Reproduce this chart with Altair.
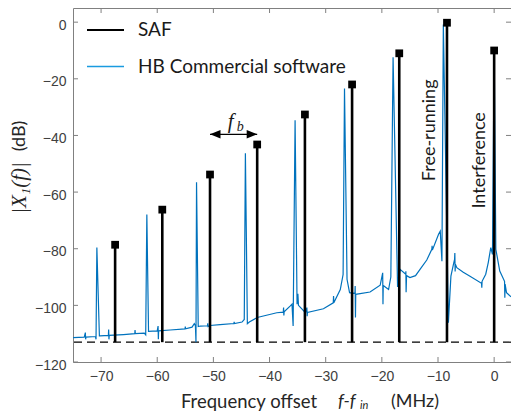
import altair as alt
import pandas as pd

# ---------------- data ----------------
saf_freq = [-67.5, -59.1, -50.6, -42.2, -33.7, -25.3, -16.9, -8.4, 0.0]
saf_level = [-78.6, -66.2, -53.8, -43.2, -32.6, -22.0, -11.0, -0.2, -10.0]
floor_level = -113.0

hb_freq = [
    -75.0, -73.0, -72.8, -72.75, -72.7, -71.0, -70.9, -70.75, -70.3, -70.2,
    -68.7, -68.65, -68.6, -68.55, -66.0, -64.0, -63.95, -63.9, -62.3, -62.05,
    -61.85, -61.55, -60.0, -59.85, -59.8, -59.75, -57.7, -55.05, -55.0, -54.95,
    -53.8, -53.4, -53.2, -53.1, -53.0, -52.7, -52.3, -51.05, -51.0, -50.95,
    -50.6, -48.8, -46.35, -46.3, -46.25, -44.9, -44.5, -44.3, -43.95, -43.6,
    -42.2, -38.7, -37.55, -37.5, -37.45, -37.4, -36.3, -36.0, -35.8, -35.45,
    -35.1, -34.95, -34.85, -33.6, -33.35, -33.3, -33.25, -30.4, -28.65, -28.6,
    -28.55, -27.4, -26.9, -26.65, -26.2, -25.75, -24.8, -24.75, -24.7, -24.65,
    -22.1, -20.3, -19.85, -19.8, -19.75, -18.8, -18.4, -18.0, -17.2, -16.75,
    -15.75, -15.72, -15.68, -15.6, -15.0, -14.0, -13.2, -12.0, -11.1, -11.05,
    -11.0, -9.9, -9.6, -9.3, -9.05, -8.15, -7.7, -7.3, -7.05, -7.0,
    -6.95, -6.9, -6.65, -5.5, -4.3, -2.25, -2.2, -2.15, -1.5, -1.05,
    -0.6, -0.3, 0.0, 0.3, 1.0, 1.85, 1.9, 1.95, 2.2, 3.0,
]
hb_level = [
    -111.4, -111.2, -109.6, -112.0, -111.2, -111.0, -112.0, -79.6, -110.8, -110.8,
    -110.6, -108.5, -112.0, -110.6, -110.3, -110.0, -108.7, -110.0, -109.8, -110.4,
    -67.9, -109.2, -109.0, -107.3, -112.0, -109.0, -108.7, -108.3, -107.5, -108.3,
    -107.7, -106.5, -107.2, -113.0, -56.5, -107.5, -107.3, -107.2, -106.3, -107.5,
    -107.1, -106.8, -106.4, -105.8, -106.4, -105.9, -105.0, -46.3, -106.5, -105.9,
    -104.3, -102.6, -102.4, -100.8, -103.6, -102.3, -100.2, -99.6, -107.3, -34.6,
    -99.6, -95.9, -100.0, -102.6, -100.8, -103.8, -102.5, -101.2, -99.1, -96.7,
    -99.1, -94.4, -89.1, -23.4, -90.8, -95.5, -95.8, -93.2, -104.3, -96.1,
    -95.3, -92.9, -88.5, -99.6, -93.0, -94.4, -90.0, -12.4, -93.5, -87.3,
    -89.0, -88.0, -95.4, -89.5, -90.2, -89.5, -87.3, -84.0, -80.2, -79.0,
    -80.5, -74.9, -73.8, -84.4, -0.8, -106.1, -89.7, -86.0, -83.8, -81.5,
    -88.0, -85.5, -86.7, -88.3, -89.7, -92.2, -93.8, -91.5, -89.0, -84.9,
    -79.6, -82.0, -10.0, -80.2, -87.9, -91.5, -97.3, -92.5, -95.5, -97.0,
]

x_ticks = [-70, -60, -50, -40, -30, -20, -10, 0]
y_ticks = [-120, -100, -80, -60, -40, -20, 0]
x_domain = [-75, 3.0]
y_domain = [-120, 5]

legend_labels = ["SAF", "HB Commercial software"]
fb_span = [-50.6, -42.2]
fb_level = -39.6

# ---------------- layout / style ----------------
W, H = 438, 354
BLUE = "#0072BD"
LEG_BLUE = "#1a9be0"
FRAME = "#808080"
SANS = "Lato"

xs = alt.Scale(domain=x_domain, nice=False, zero=False)
ys = alt.Scale(domain=y_domain, nice=False, zero=False)

x_axis = alt.Axis(values=x_ticks, ticks=False, domain=False, grid=False, title=None,
                  labelFont="Liberation Sans", labelFontSize=14, labelColor="#404040",
                  labelPadding=7)
y_axis = alt.Axis(values=y_ticks, ticks=False, domain=False, grid=False, title=None,
                  labelFont="Liberation Sans", labelFontSize=14, labelColor="#404040",
                  labelPadding=7, labelOffset=3)

hb_df = pd.DataFrame({"f": hb_freq, "v": hb_level, "i": range(len(hb_freq))})
saf_df = pd.DataFrame({"f": saf_freq, "v": saf_level, "b": [floor_level] * len(saf_freq)})

floor_line = alt.Chart(pd.DataFrame({"v": [floor_level]})).mark_rule(
    color="black", strokeWidth=1.2, strokeDash=[8, 5]
).encode(y=alt.Y("v:Q", scale=ys, axis=y_axis))

hb_line = alt.Chart(hb_df).mark_line(color=BLUE, strokeWidth=1.2, clip=True).encode(
    x=alt.X("f:Q", scale=xs, axis=x_axis),
    y=alt.Y("v:Q", scale=ys, axis=y_axis),
    order="i:Q",
)

stems = alt.Chart(saf_df).mark_rule(color="black", strokeWidth=2.6).encode(
    x=alt.X("f:Q", scale=xs), y=alt.Y("v:Q", scale=ys), y2="b:Q"
)
heads = alt.Chart(saf_df).mark_square(color="black", opacity=1, size=60).encode(
    x=alt.X("f:Q", scale=xs), y=alt.Y("v:Q", scale=ys)
)

# inward ticks on all four sides
xt_df = pd.DataFrame({"t": x_ticks})
yt_df = pd.DataFrame({"t": y_ticks})
tick_bottom = alt.Chart(xt_df).mark_rule(color=FRAME, strokeWidth=1).encode(
    x=alt.X("t:Q", scale=xs), y=alt.value(H), y2=alt.value(H - 5))
tick_top = alt.Chart(xt_df).mark_rule(color=FRAME, strokeWidth=1).encode(
    x=alt.X("t:Q", scale=xs), y=alt.value(0), y2=alt.value(5))
tick_left = alt.Chart(yt_df).mark_rule(color=FRAME, strokeWidth=1).encode(
    y=alt.Y("t:Q", scale=ys), x=alt.value(0), x2=alt.value(5))
tick_right = alt.Chart(yt_df).mark_rule(color=FRAME, strokeWidth=1).encode(
    y=alt.Y("t:Q", scale=ys), x=alt.value(W), x2=alt.value(W - 5))

# legend (manual)
one = pd.DataFrame({"a": [0]})
leg_saf_line = alt.Chart(one).mark_rule(color="black", strokeWidth=2).encode(
    x=alt.value(14), x2=alt.value(51), y=alt.value(22))
leg_hb_line = alt.Chart(one).mark_rule(color=LEG_BLUE, strokeWidth=1.5).encode(
    x=alt.value(14), x2=alt.value(51), y=alt.value(58.5))
leg_df = pd.DataFrame({"t": legend_labels, "yy": [22, 58.5]})
leg_text = alt.Chart(leg_df).mark_text(
    align="left", baseline="middle", font=SANS, fontSize=19, color="#1a1a1a"
).encode(text="t:N", x=alt.value(65), y=alt.Y("yy:Q", scale=None))

# f_b arrow
fb_df = pd.DataFrame({"x1": [fb_span[0]], "x2": [fb_span[1]], "v": [fb_level]})
fb_rule = alt.Chart(fb_df).mark_rule(color="black", strokeWidth=1.3).encode(
    x=alt.X("x1:Q", scale=xs), x2="x2:Q", y=alt.Y("v:Q", scale=ys))
fb_left = alt.Chart(fb_df).mark_point(
    shape="M0,0 L2,-0.8 L2,0.8 Z", filled=True, color="black", opacity=1, size=110
).encode(x=alt.X("x1:Q", scale=xs), y=alt.Y("v:Q", scale=ys))
fb_right = alt.Chart(fb_df).mark_point(
    shape="M0,0 L-2,-0.8 L-2,0.8 Z", filled=True, color="black", opacity=1, size=110
).encode(x=alt.X("x2:Q", scale=xs), y=alt.Y("v:Q", scale=ys))
fb_f = alt.Chart(pd.DataFrame({"x": [-46.9], "v": [-35.2], "t": ["f"]})).mark_text(
    font="Liberation Serif", fontStyle="italic", fontSize=21, color="#1a1a1a", baseline="middle"
).encode(x=alt.X("x:Q", scale=xs), y=alt.Y("v:Q", scale=ys), text="t:N")
fb_b = alt.Chart(pd.DataFrame({"x": [-45.2], "v": [-37.0], "t": ["b"]})).mark_text(
    font="Liberation Serif", fontStyle="italic", fontSize=14, color="#1a1a1a", baseline="middle"
).encode(x=alt.X("x:Q", scale=xs), y=alt.Y("v:Q", scale=ys), text="t:N")

# rotated annotations
ann_df = pd.DataFrame({"x": [-11.4, -2.5], "v": [-38.2, -48.8],
                       "t": ["Free-running", "Interference"]})
ann = alt.Chart(ann_df).mark_text(
    angle=270, font=SANS, fontSize=18, color="#1a1a1a", align="center", baseline="middle"
).encode(x=alt.X("x:Q", scale=xs), y=alt.Y("v:Q", scale=ys), text="t:N")

# axis titles as text marks
ytitle_a = alt.Chart(pd.DataFrame({"t": ["|X\u2081(f)|"]})).mark_text(
    angle=270, font="Liberation Serif", fontStyle="italic", fontSize=21, color="#262626",
    align="center", baseline="middle"
).encode(text="t:N", x=alt.value(-53), y=alt.value(180))
ytitle_b = alt.Chart(pd.DataFrame({"t": ["(dB)"]})).mark_text(
    angle=270, font=SANS, fontSize=18, color="#262626", align="center", baseline="middle"
).encode(text="t:N", x=alt.value(-53), y=alt.value(128))

xtitle_a = alt.Chart(pd.DataFrame({"t": ["Frequency offset"]})).mark_text(
    font=SANS, fontSize=18.5, color="#262626", align="center", baseline="middle"
).encode(text="t:N", x=alt.value(176), y=alt.value(394))
xtitle_b = alt.Chart(pd.DataFrame({"t": ["f-f"]})).mark_text(
    font=SANS, fontStyle="italic", fontSize=18, color="#262626", align="left", baseline="middle"
).encode(text="t:N", x=alt.value(265), y=alt.value(394))
xtitle_c = alt.Chart(pd.DataFrame({"t": ["in"]})).mark_text(
    font=SANS, fontStyle="italic", fontSize=11, color="#262626", align="left", baseline="middle"
).encode(text="t:N", x=alt.value(287), y=alt.value(398))
xtitle_d = alt.Chart(pd.DataFrame({"t": ["(MHz)"]})).mark_text(
    font=SANS, fontSize=18, color="#262626", align="center", baseline="middle"
).encode(text="t:N", x=alt.value(342), y=alt.value(394))

chart = alt.layer(
    floor_line, hb_line, stems, heads,
    tick_bottom, tick_top, tick_left, tick_right,
    leg_saf_line, leg_hb_line, leg_text,
    fb_rule, fb_left, fb_right, fb_f, fb_b,
    ann, ytitle_a, ytitle_b, xtitle_a, xtitle_b, xtitle_c, xtitle_d,
).properties(
    width=W, height=H,
    autosize=alt.AutoSizeParams(type="none"),
    padding={"left": 65, "top": 0, "right": 0, "bottom": 50},
    background="white",
).configure_view(stroke=FRAME, strokeWidth=1)

chart.save("out.html", embed_options={"renderer": "svg", "actions": False})
